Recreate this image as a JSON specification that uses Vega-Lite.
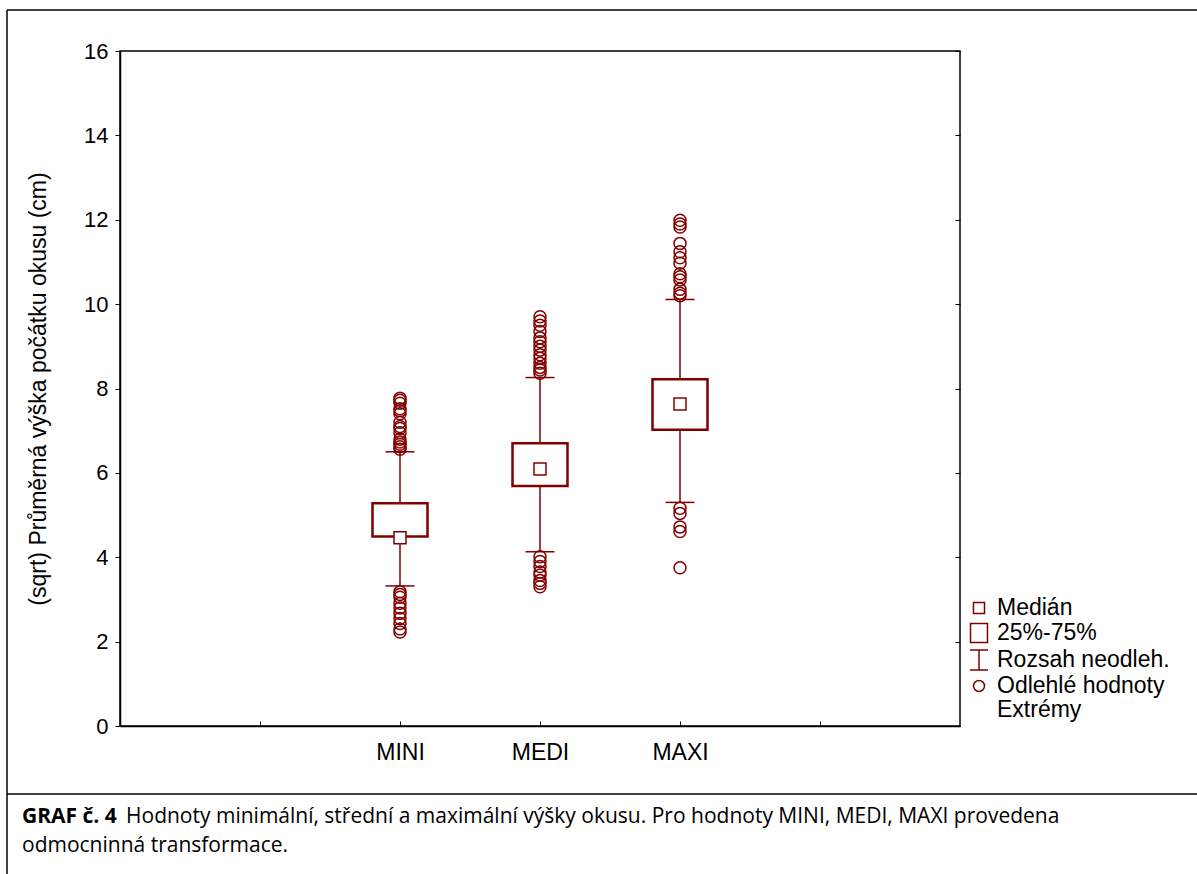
{
  "$schema": "https://vega.github.io/schema/vega-lite/v6.json",
  "width": 840,
  "height": 675,
  "padding": {"left": 6, "top": 9, "right": 0, "bottom": 0},
  "background": "white",
  "datasets": {
    "stats": [
      {"g": "MINI", "k": 2, "lo": 3.32, "q1": 4.49, "med": 4.46, "q3": 5.28, "hi": 6.50},
      {"g": "MEDI", "k": 3, "lo": 4.13, "q1": 5.69, "med": 6.09, "q3": 6.70, "hi": 8.26},
      {"g": "MAXI", "k": 4, "lo": 5.30, "q1": 7.02, "med": 7.63, "q3": 8.22, "hi": 10.11}
    ],
    "out": [
      {"g": "MINI", "k": 2, "v": 6.56}, {"g": "MINI", "k": 2, "v": 6.62}, {"g": "MINI", "k": 2, "v": 6.68},
      {"g": "MINI", "k": 2, "v": 6.73}, {"g": "MINI", "k": 2, "v": 6.80}, {"g": "MINI", "k": 2, "v": 6.95},
      {"g": "MINI", "k": 2, "v": 7.05}, {"g": "MINI", "k": 2, "v": 7.10}, {"g": "MINI", "k": 2, "v": 7.20},
      {"g": "MINI", "k": 2, "v": 7.40}, {"g": "MINI", "k": 2, "v": 7.47}, {"g": "MINI", "k": 2, "v": 7.52},
      {"g": "MINI", "k": 2, "v": 7.65}, {"g": "MINI", "k": 2, "v": 7.72}, {"g": "MINI", "k": 2, "v": 7.77},
      {"g": "MINI", "k": 2, "v": 3.18}, {"g": "MINI", "k": 2, "v": 3.12}, {"g": "MINI", "k": 2, "v": 3.05},
      {"g": "MINI", "k": 2, "v": 2.91}, {"g": "MINI", "k": 2, "v": 2.80}, {"g": "MINI", "k": 2, "v": 2.67},
      {"g": "MINI", "k": 2, "v": 2.55}, {"g": "MINI", "k": 2, "v": 2.43}, {"g": "MINI", "k": 2, "v": 2.30},
      {"g": "MINI", "k": 2, "v": 2.23},
      {"g": "MEDI", "k": 3, "v": 8.36}, {"g": "MEDI", "k": 3, "v": 8.44}, {"g": "MEDI", "k": 3, "v": 8.50},
      {"g": "MEDI", "k": 3, "v": 8.60}, {"g": "MEDI", "k": 3, "v": 8.72}, {"g": "MEDI", "k": 3, "v": 8.80},
      {"g": "MEDI", "k": 3, "v": 8.91}, {"g": "MEDI", "k": 3, "v": 9.00}, {"g": "MEDI", "k": 3, "v": 9.11},
      {"g": "MEDI", "k": 3, "v": 9.20}, {"g": "MEDI", "k": 3, "v": 9.35}, {"g": "MEDI", "k": 3, "v": 9.50},
      {"g": "MEDI", "k": 3, "v": 9.60}, {"g": "MEDI", "k": 3, "v": 9.70},
      {"g": "MEDI", "k": 3, "v": 4.01}, {"g": "MEDI", "k": 3, "v": 3.90}, {"g": "MEDI", "k": 3, "v": 3.78},
      {"g": "MEDI", "k": 3, "v": 3.65}, {"g": "MEDI", "k": 3, "v": 3.58}, {"g": "MEDI", "k": 3, "v": 3.45},
      {"g": "MEDI", "k": 3, "v": 3.38}, {"g": "MEDI", "k": 3, "v": 3.30},
      {"g": "MAXI", "k": 4, "v": 10.20}, {"g": "MAXI", "k": 4, "v": 10.26}, {"g": "MAXI", "k": 4, "v": 10.35},
      {"g": "MAXI", "k": 4, "v": 10.57}, {"g": "MAXI", "k": 4, "v": 10.65}, {"g": "MAXI", "k": 4, "v": 10.72},
      {"g": "MAXI", "k": 4, "v": 10.97}, {"g": "MAXI", "k": 4, "v": 11.10}, {"g": "MAXI", "k": 4, "v": 11.24},
      {"g": "MAXI", "k": 4, "v": 11.44}, {"g": "MAXI", "k": 4, "v": 11.83}, {"g": "MAXI", "k": 4, "v": 11.90},
      {"g": "MAXI", "k": 4, "v": 11.99},
      {"g": "MAXI", "k": 4, "v": 5.16}, {"g": "MAXI", "k": 4, "v": 5.04}, {"g": "MAXI", "k": 4, "v": 4.72},
      {"g": "MAXI", "k": 4, "v": 4.61}, {"g": "MAXI", "k": 4, "v": 3.75}
    ]
  },
  "config": {
    "view": {"stroke": "black", "strokeWidth": 1.5},
    "axis": {"grid": false, "domainColor": "black", "tickColor": "black", "labelColor": "black", "titleColor": "black"}
  },
  "resolve": {"axis": {"y": "independent"}},
  "layer": [
    {
      "data": {"values": [{}]},
      "mark": {"type": "rule", "stroke": "black", "strokeWidth": 1.5},
      "encoding": {
        "x": {"datum": -0.807, "type": "quantitative"},
        "y": {"datum": 16.97, "type": "quantitative", "axis": null},
        "y2": {"datum": -3.6}
      }
    },
    {
      "data": {"values": [{}]},
      "mark": {"type": "rule", "stroke": "black", "strokeWidth": 1.5},
      "encoding": {
        "x": {"datum": -0.807, "type": "quantitative"},
        "x2": {"datum": 7.75},
        "y": {"datum": 16.97, "type": "quantitative", "axis": null}
      }
    },
    {
      "data": {"values": [{}]},
      "mark": {"type": "rule", "stroke": "black", "strokeWidth": 1.5},
      "encoding": {
        "x": {"datum": -0.807, "type": "quantitative"},
        "x2": {"datum": 7.75},
        "y": {"datum": -1.612, "type": "quantitative", "axis": null}
      }
    },
    {
      "data": {"values": [{"t": "GRAF č. 4"}]},
      "mark": {"type": "text", "align": "left", "baseline": "middle", "font": "Open Sans", "fontSize": 21, "fontWeight": "bold", "color": "black"},
      "encoding": {
        "x": {"datum": -0.7, "type": "quantitative"},
        "y": {"datum": -2.157, "type": "quantitative", "axis": null},
        "text": {"field": "t"}
      }
    },
    {
      "data": {"values": [{"t": "Hodnoty minimální, střední a maximální výšky okusu. Pro hodnoty MINI, MEDI, MAXI provedena"}]},
      "mark": {"type": "text", "align": "left", "baseline": "middle", "font": "Open Sans", "fontSize": 21, "color": "black"},
      "encoding": {
        "x": {"datum": 0.043, "type": "quantitative"},
        "y": {"datum": -2.157, "type": "quantitative", "axis": null},
        "text": {"field": "t"}
      }
    },
    {
      "data": {"values": [{"t": "odmocninná transformace."}]},
      "mark": {"type": "text", "align": "left", "baseline": "middle", "font": "Open Sans", "fontSize": 21, "color": "black"},
      "encoding": {
        "x": {"datum": -0.7, "type": "quantitative"},
        "y": {"datum": -2.844, "type": "quantitative", "axis": null},
        "text": {"field": "t"}
      }
    },
    {
      "data": {"name": "stats"},
      "mark": {"type": "rule", "stroke": "#800000", "strokeWidth": 1.5},
      "encoding": {
        "x": {"field": "k", "type": "quantitative"},
        "y": {"field": "lo", "type": "quantitative", "axis": null},
        "y2": {"field": "hi"}
      }
    },
    {
      "data": {"name": "stats"},
      "mark": {"type": "rect", "fill": "white", "stroke": "#800000", "strokeWidth": 2.5, "xOffset": -27.5, "x2Offset": 27.5},
      "encoding": {
        "x": {
          "field": "k", "type": "quantitative",
          "scale": {"domain": [0, 6], "nice": false, "zero": false},
          "axis": {
            "title": null,
            "values": [1, 2, 3, 4, 5],
            "labelExpr": "datum.value == 2 ? 'MINI' : datum.value == 3 ? 'MEDI' : datum.value == 4 ? 'MAXI' : ''",
            "labelFont": "Liberation Sans",
            "labelFontSize": 23,
            "labelPadding": 20,
            "tickSize": -5,
            "tickWidth": 1,
            "domainWidth": 1.5
          }
        },
        "x2": {"field": "k"},
        "y": {
          "field": "q1", "type": "quantitative",
          "scale": {"domain": [0, 16], "nice": false, "zero": true},
          "axis": {
            "orient": "left",
            "title": "(sqrt) Průměrná výška počátku okusu (cm)",
            "titleFont": "Liberation Sans",
            "titleFontSize": 23,
            "titleFontWeight": "normal",
            "titlePadding": 33,
            "values": [0, 2, 4, 6, 8, 10, 12, 14, 16],
            "labelFont": "Liberation Sans",
            "labelFontSize": 22,
            "labelPadding": 7,
            "tickSize": 5,
            "tickWidth": 1,
            "domainWidth": 1.5
          }
        },
        "y2": {"field": "q3"}
      }
    },
    {
      "data": {"name": "stats"},
      "mark": {"type": "rule", "stroke": "#800000", "strokeWidth": 1.5, "xOffset": -14.5, "x2Offset": 14.5},
      "encoding": {
        "x": {"field": "k", "type": "quantitative"},
        "x2": {"field": "k"},
        "y": {"field": "lo", "type": "quantitative", "axis": null}
      }
    },
    {
      "data": {"name": "stats"},
      "mark": {"type": "rule", "stroke": "#800000", "strokeWidth": 1.5, "xOffset": -14.5, "x2Offset": 14.5},
      "encoding": {
        "x": {"field": "k", "type": "quantitative"},
        "x2": {"field": "k"},
        "y": {"field": "hi", "type": "quantitative", "axis": null}
      }
    },
    {
      "data": {"name": "out"},
      "mark": {"type": "point", "filled": false, "color": "#800000", "strokeWidth": 1.5, "size": 576, "opacity": 1},
      "encoding": {
        "x": {"field": "k", "type": "quantitative"},
        "y": {"field": "v", "type": "quantitative", "axis": null},
        "shape": {
          "datum": "Odlehlé hodnoty",
          "scale": {
            "domain": ["Medián", "25%-75%", "Rozsah neodleh.", "Odlehlé hodnoty", "Extrémy"],
            "range": [
              "M-0.5,-0.5H0.5V0.5H-0.5Z",
              "M-0.77,-0.86H0.77V0.86H-0.77Z",
              "M-0.82,-0.92H0.82M0,-0.92V0.92M-0.82,0.92H0.82",
              "M0.5,0A0.5,0.5 0 1,1 -0.5,0A0.5,0.5 0 1,1 0.5,0Z",
              "M0,0"
            ]
          }
        }
      }
    },
    {
      "data": {"name": "stats"},
      "mark": {"type": "point", "filled": false, "fill": "white", "color": "#800000", "strokeWidth": 1.5, "size": 576, "opacity": 1},
      "encoding": {
        "x": {"field": "k", "type": "quantitative"},
        "y": {
          "field": "med", "type": "quantitative",
          "axis": {"orient": "right", "title": null, "labels": false, "domain": false, "values": [0, 2, 4, 6, 8, 10, 12, 14, 16], "tickSize": -5, "tickWidth": 1}
        },
        "shape": {
          "datum": "Medián",
          "scale": {
            "domain": ["Medián", "25%-75%", "Rozsah neodleh.", "Odlehlé hodnoty", "Extrémy"],
            "range": [
              "M-0.5,-0.5H0.5V0.5H-0.5Z",
              "M-0.77,-0.86H0.77V0.86H-0.77Z",
              "M-0.82,-0.92H0.82M0,-0.92V0.92M-0.82,0.92H0.82",
              "M0.5,0A0.5,0.5 0 1,1 -0.5,0A0.5,0.5 0 1,1 0.5,0Z",
              "M0,0"
            ]
          },
          "legend": {
            "title": null,
            "orient": "none",
            "legendX": 847,
            "legendY": 545,
            "labelFont": "Liberation Sans",
            "labelFontSize": 23,
            "labelColor": "black",
            "labelOffset": 6,
            "symbolSize": 484,
            "symbolStrokeColor": "#800000",
            "symbolFillColor": "transparent",
            "symbolStrokeWidth": 1.5,
            "rowPadding": 0,
            "labelLimit": 400
          }
        }
      }
    }
  ]
}
